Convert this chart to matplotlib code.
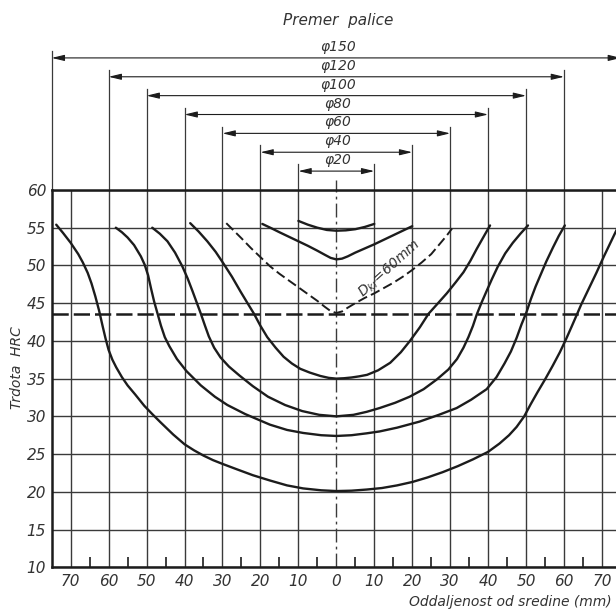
import numpy as np
import matplotlib.pyplot as plt

# hardness (HRC) against distance from the bar centre (mm), one profile per bar diameter
x_d20 = [-10, -7.5, -5, -2.5, 0, 2.5, 5, 7.5, 10]
h_d20 = [55.9, 55.4, 55.0, 54.7, 54.6, 54.65, 54.8, 55.1, 55.5]

x_d40 = [-19.5, -17, -15, -12.5, -10, -7.5, -5, -3, -1.5, 0, 1.5, 3, 5, 7.5, 10, 12.5, 15, 17.5, 20]
h_d40 = [55.5, 54.9, 54.4, 53.8, 53.2, 52.6, 51.95, 51.4, 51.0, 50.8, 50.9, 51.2, 51.7, 52.25, 52.8, 53.4, 54.0, 54.6, 55.2]

x_d60 = [-29, -27, -25, -22.5, -20, -17.5, -15, -12.5, -10, -7.5, -5, -3, -1.5, 0,
         1.5, 3, 5, 7.5, 10, 12.5, 15, 17.5, 20, 22.5, 25, 27, 29, 30.5]
h_d60 = [55.6, 54.6, 53.6, 52.3, 51.1, 49.9, 48.9, 48.0, 47.1, 46.2, 45.3, 44.5, 43.95, 43.7,
         43.9, 44.4, 45.0, 45.7, 46.3, 47.0, 47.7, 48.5, 49.4, 50.4, 51.5, 52.7, 53.9, 54.9]

x_d80 = [-38.5, -36.3, -34, -31.8, -29.8, -27.5, -25.2, -23.4, -21.7, -20, -18.2, -16, -13.9, -11.7, -9.5, -7, -4.2, -2, 0,
         2, 4, 6, 8.1, 11, 14.2, 17, 19.4, 22, 24.3, 26.8, 29.1, 31.5, 33.5, 35.3, 37, 38.8, 40.5]
h_d80 = [55.6, 54.5, 53.2, 51.8, 50.3, 48.5, 46.5, 45.0, 43.6, 42.0, 40.5, 39.1, 37.9, 37.0, 36.3, 35.8, 35.35, 35.1, 35.0,
         35.05, 35.15, 35.3, 35.5, 36.1, 37.1, 38.5, 40.0, 41.8, 43.6, 45.0, 46.3, 47.8, 49.1, 50.6, 52.2, 53.8, 55.3]

x_d100 = [-48.5, -46.5, -44.5, -42.5, -40.6, -39.2, -37.9, -36.8, -35.7, -34.6, -33.6, -32.2, -30.5, -28.3, -25.5, -22, -18, -13.5, -9, -4.5, 0,
          4.5, 8, 11.4, 15.5, 19.3, 23, 26.5, 29.5, 31.8, 33.5, 34.8, 36, 37, 38.2, 39.5, 41, 42.5, 44.5, 46.5, 48.5, 50.5]
h_d100 = [55.0, 54.2, 53.2, 51.7, 49.9, 48.3, 46.6, 45.1, 43.6, 42.0, 40.6, 39.1, 37.8, 36.6, 35.4, 34.0, 32.6, 31.5, 30.7, 30.2, 30.0,
          30.2, 30.6, 31.1, 31.8, 32.6, 33.6, 34.9, 36.2, 37.6, 39.1, 40.5, 42.0, 43.5, 45.0, 46.5, 48.2, 49.8, 51.6, 53.0, 54.2, 55.3]

x_d120 = [-58.1, -56.5, -55, -53.3, -51.5, -50.5, -49.6, -48.8, -48, -47.1, -46.2, -45.2, -44, -42, -39.5, -35.7, -32, -28.7, -24, -17.5, -13, -8.75, -4, 0,
          4, 8, 11.4, 16, 21.9, 27, 31.7, 35.5, 39.6, 42.2, 44.3, 46, 47.5, 48.8, 50.1, 51.3, 52.5, 53.6, 55.3, 57.1, 58.6, 60.2]
h_d120 = [55.0, 54.4, 53.7, 52.7, 51.2, 50.1, 48.7, 46.9, 45.2, 43.6, 42.0, 40.5, 39.3, 37.6, 36.0, 34.1, 32.6, 31.5, 30.3, 28.9, 28.2, 27.8, 27.5, 27.4,
          27.5, 27.75, 28.0, 28.5, 29.3, 30.2, 31.1, 32.2, 33.6, 35.2, 37.0, 38.6, 40.4, 42.2, 43.8, 45.6, 47.2, 48.5, 50.5, 52.4, 53.9, 55.3]

x_d150 = [-73.8, -72, -70, -68, -66.8, -65.5, -64.5, -63.5, -62.5, -61.6, -60.8, -60, -59, -58, -56.5, -55, -53, -50.6, -48.5, -46.3,
          -43, -40, -37.5, -35, -32.5, -30, -26.3, -22, -17.5, -13, -8.75, -4, 0,
          4, 8, 12, 16, 20, 24, 28, 32, 36, 40, 43, 45.5, 47.5, 49.5, 51.2, 53, 55, 57, 58.9,
          60.5, 62, 63.3, 64.5, 66.5, 68.5, 70.5, 72.5, 74.5]
h_d150 = [55.4, 54.3, 53.0, 51.5, 50.4, 49.0, 47.6, 45.9, 44.0, 42.0, 40.3, 38.8, 37.5, 36.5, 35.2, 34.1, 32.9, 31.4, 30.3, 29.2,
          27.6, 26.3, 25.5, 24.8, 24.2, 23.7, 23.0, 22.2, 21.5, 20.85, 20.45, 20.2, 20.1,
          20.15, 20.3, 20.5, 20.85, 21.3, 21.9, 22.6, 23.4, 24.3, 25.3, 26.4, 27.5, 28.6, 30.0, 31.6, 33.2, 34.9, 36.7, 38.5,
          40.2, 41.9, 43.4, 44.8, 46.9, 49.0, 51.2, 53.3, 55.4]

diameters = [20, 40, 60, 80, 100, 120, 150]
dim_levels = [62.5, 65, 67.5, 70, 72.5, 75, 77.5]
hrc_crit = 43.6

x_ticks = np.arange(-70, 71, 10)
x_minor = np.arange(-65, 70, 10)
y_ticks = np.arange(10, 61, 5)

ink = '#1c1c1c'
grid_ink = '#3a3a3a'
txt = '#333333'

fig = plt.figure(figsize=(6.16, 6.13), dpi=100)
ax = fig.add_axes([0.0839, 0.0746, 0.9242, 0.6155])
ax.set_xlim(-75, 75)
ax.set_ylim(10, 60)

ax.set_xticks(x_ticks)
ax.set_xticklabels([str(abs(v)) for v in x_ticks], fontstyle='italic', color=txt, fontsize=11)
ax.set_xticks(x_minor, minor=True)
ax.set_yticks(y_ticks)
ax.set_yticklabels([str(v) for v in y_ticks], fontstyle='italic', color=txt, fontsize=11)
ax.tick_params(axis='x', which='major', length=0, pad=5)
ax.tick_params(axis='y', which='major', length=0, pad=4)
ax.tick_params(axis='x', which='minor', direction='in', length=7, width=1.2, color=ink)

ax.grid(True, color=grid_ink, lw=1.0)
# centre line drawn as a chain line
centre = (0, (10, 3, 2, 3))
ax.xaxis.get_gridlines()[list(x_ticks).index(0)].set_linestyle(centre)
ax.plot([0, 0], [60, 61.3], color=grid_ink, lw=1.0, ls=centre, clip_on=False)

for s in ['left', 'bottom', 'top']:
    ax.spines[s].set_linewidth(1.8)
    ax.spines[s].set_color(ink)
ax.spines['right'].set_visible(False)

# critical hardness line
ax.axhline(hrc_crit, color=ink, lw=1.8, ls=(0, (6.5, 2)))

curves = [(x_d20, h_d20), (x_d40, h_d40), (x_d80, h_d80),
          (x_d100, h_d100), (x_d120, h_d120), (x_d150, h_d150)]
for xs, hs in curves:
    ax.plot(xs, hs, color=ink, lw=1.7, solid_joinstyle='round', solid_capstyle='round')
ax.plot(x_d60, h_d60, color=ink, lw=1.4, ls=(0, (5, 2.2)))
ax.text(14.0, 49.6, 'D$_{kr}$=60mm', rotation=42, ha='center', va='center',
        fontsize=10, fontstyle='italic', color=txt)

# dimension lines for the bar diameters
for d, lvl in zip(diameters, dim_levels):
    r = d / 2
    for sx in (-r, r):
        ax.plot([sx, sx], [60, lvl + 0.9], color=grid_ink, lw=0.9, clip_on=False)
    ax.annotate('', xy=(-r, lvl), xytext=(r, lvl), annotation_clip=False,
                arrowprops=dict(arrowstyle='<|-|>,head_length=0.75,head_width=0.18',
                                color=ink, lw=0.8, shrinkA=0, shrinkB=0))
    ax.text(0.5, lvl + 1.45, f'φ{d}', ha='center', va='center', fontsize=10,
            fontstyle='italic', color=txt, clip_on=False)

ax.text(0.5, 82.5, 'Premer  palice', ha='center', va='center', fontsize=11,
        fontstyle='italic', color=txt, clip_on=False)

fig.text(17 / 616, 1 - 368 / 613, 'Trdota  HRC', rotation=90, ha='center', va='center',
         fontsize=10, fontstyle='italic', color=txt)
fig.text(510 / 616, 1 - 602 / 613, 'Oddaljenost od sredine (mm)', ha='center', va='center',
         fontsize=10, fontstyle='italic', color=txt)

fig.savefig('out.png', dpi=100)
